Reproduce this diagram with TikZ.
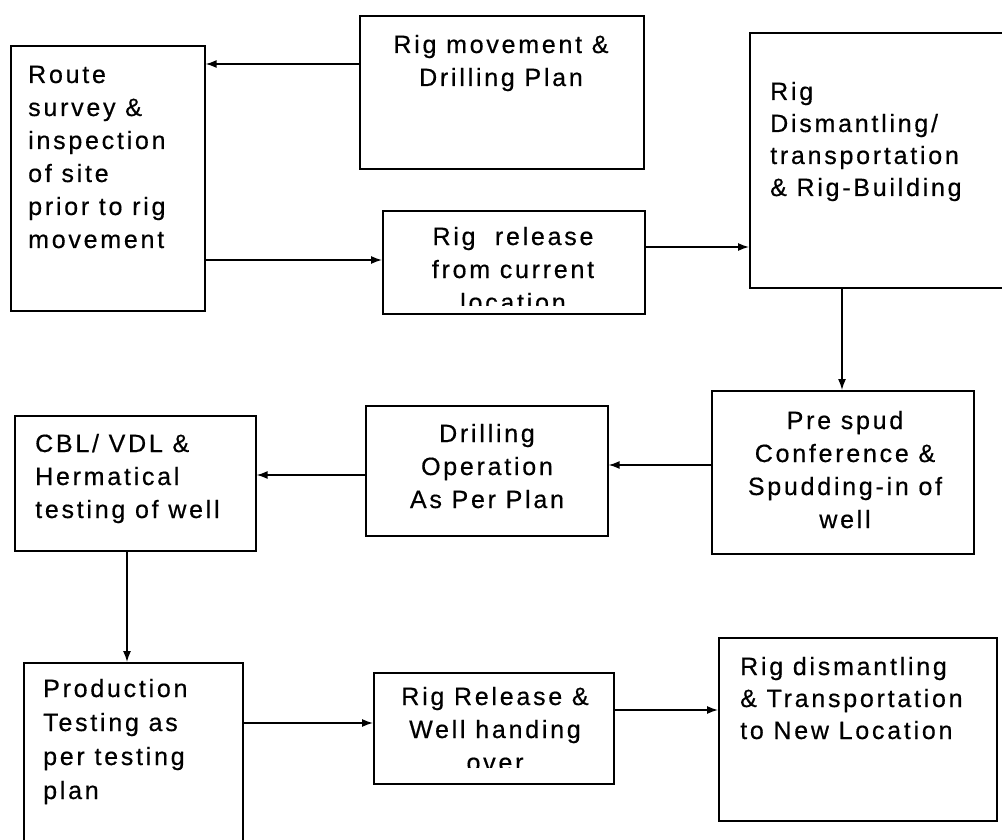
\documentclass[tikz,border=0pt]{standalone}
\usepackage{fontspec}
\setmainfont{Liberation Sans}[LetterSpace=11,FakeBold=0.5]
\usetikzlibrary{arrows.meta}
\begin{document}
\begin{tikzpicture}[x=1pt,y=-1pt,
  box/.style={draw=black,line width=1.6pt,inner sep=0pt,anchor=north west},
  txt/.style={inner sep=0pt,font=\fontsize{25}{33}\selectfont},
  txtb/.style={inner sep=0pt,font=\fontsize{25}{32}\selectfont},
  txtc/.style={inner sep=0pt,font=\fontsize{25}{34}\selectfont},
  arr/.style={line width=1.4pt,-{Latex[length=11pt,width=8pt]}}]
\useasboundingbox (0,0) rectangle (1002,840);
% boxes
\node[box,minimum width=194pt,minimum height=265pt] (b1) at (10,45) {};
\node[box,minimum width=284pt,minimum height=153pt] (b2) at (359,15) {};
\node[box,minimum width=262pt,minimum height=103pt] (b3) at (382,210) {};
\node[box,minimum width=261pt,minimum height=255pt] (b4) at (749,32) {};
\node[box,minimum width=262pt,minimum height=163pt] (b5) at (711,390) {};
\node[box,minimum width=242pt,minimum height=130pt] (b6) at (365,405) {};
\node[box,minimum width=241pt,minimum height=135pt] (b7) at (14,415) {};
\node[box,minimum width=219pt,minimum height=190pt] (b8) at (23,662) {};
\node[box,minimum width=240pt,minimum height=111pt] (b9) at (373,672) {};
\node[box,minimum width=278pt,minimum height=183pt] (b10) at (718,637) {};
% texts
\node[txt,anchor=base west] (t1) at (28,83) {\begin{tabular}[t]{@{}l@{}}Route\\survey \&\\inspection\\of site\\prior to rig\\movement\end{tabular}};
\node[txt,anchor=base] (t2) at (501,53) {\begin{tabular}[t]{@{}c@{}}Rig movement \&\\Drilling Plan\end{tabular}};
\begin{scope}
\clip (382,200) rectangle (644,305);
\node[txt,anchor=base] (t3) at (513,245) {\begin{tabular}[t]{@{}c@{}}Rig\ \ release\\from current\\location\end{tabular}};
\end{scope}
\node[txtb,anchor=base west] (t4) at (770,100) {\begin{tabular}[t]{@{}l@{}}Rig\\Dismantling/\\transportation\\\& Rig-Building\end{tabular}};
\node[txt,anchor=base] (t5) at (845,429) {\begin{tabular}[t]{@{}c@{}}Pre spud\\Conference \&\\Spudding-in of\\well\end{tabular}};
\node[txt,anchor=base] (t6) at (487,442) {\begin{tabular}[t]{@{}c@{}}Drilling\\Operation\\As Per Plan\end{tabular}};
\node[txt,anchor=base west] (t7) at (35,452) {\begin{tabular}[t]{@{}l@{}}CBL/ VDL \&\\Hermatical\\testing of well\end{tabular}};
\node[txtc,anchor=base west] (t8) at (43,697) {\begin{tabular}[t]{@{}l@{}}Production\\Testing as\\per testing\\plan\end{tabular}};
\begin{scope}
\clip (373,660) rectangle (613,767);
\node[txt,anchor=base] (t9) at (495,705) {\begin{tabular}[t]{@{}c@{}}Rig Release \&\\Well handing\\over\end{tabular}};
\end{scope}
\node[txtb,anchor=base west] (t10) at (740,675) {\begin{tabular}[t]{@{}l@{}}Rig dismantling\\\& Transportation\\to New Location\end{tabular}};
% connector levels
\coordinate (ya1) at (0,64);
\coordinate (ya2) at (0,260);
\coordinate (ya3) at (0,247);
\coordinate (xa4) at (842,0);
\coordinate (ya5) at (0,465);
\coordinate (ya6) at (0,475);
\coordinate (xa7) at (127,0);
\coordinate (ya8) at (0,723);
\coordinate (ya9) at (0,710);
% connectors
\draw[arr] (b2.west |- ya1) -- (b1.east |- ya1);
\draw[arr] (b1.east |- ya2) -- (b3.west |- ya2);
\draw[arr] (b3.east |- ya3) -- (b4.west |- ya3);
\draw[arr] (b4.south -| xa4) -- (b5.north -| xa4);
\draw[arr] (b5.west |- ya5) -- (b6.east |- ya5);
\draw[arr] (b6.west |- ya6) -- (b7.east |- ya6);
\draw[arr] (b7.south -| xa7) -- (b8.north -| xa7);
\draw[arr] (b8.east |- ya8) -- (b9.west |- ya8);
\draw[arr] (b9.east |- ya9) -- (b10.west |- ya9);
\end{tikzpicture}
\end{document}
